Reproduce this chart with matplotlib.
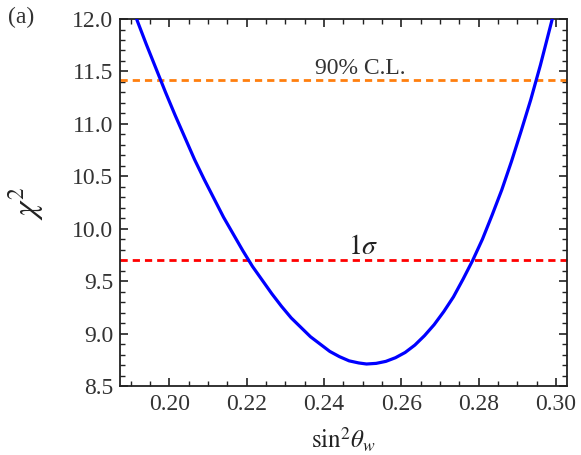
import matplotlib
matplotlib.use("Agg")
import matplotlib.pyplot as plt
from matplotlib.ticker import MultipleLocator, FormatStrFormatter

plt.rcParams['font.family'] = ['Liberation Serif', 'DejaVu Serif']
plt.rcParams['mathtext.fontset'] = 'stix'

# chi^2 curve (x = sin^2 theta_w, y = chi^2)
sin2 = [0.1915, 0.1940, 0.1965, 0.1990, 0.2015, 0.2040, 0.2065, 0.2090, 0.2115, 0.2140,
        0.2165, 0.2190, 0.2215, 0.2240, 0.2265, 0.2290, 0.2315, 0.2340, 0.2365, 0.2390,
        0.2415, 0.2440, 0.2465, 0.2490, 0.2510, 0.2535, 0.2560, 0.2585, 0.2610, 0.2635,
        0.2660, 0.2685, 0.2710, 0.2735, 0.2760, 0.2785, 0.2810, 0.2835, 0.2860, 0.2885,
        0.2910, 0.2935, 0.2960, 0.2990]
chi2 = [12.00, 11.76, 11.53, 11.30, 11.08, 10.87, 10.66, 10.47, 10.29, 10.11,
        9.95, 9.79, 9.64, 9.51, 9.38, 9.26, 9.15, 9.06, 8.97, 8.90,
        8.83, 8.78, 8.74, 8.72, 8.71, 8.716, 8.735, 8.77, 8.82, 8.89,
        8.98, 9.085, 9.21, 9.35, 9.52, 9.70, 9.90, 10.13, 10.37, 10.64,
        10.93, 11.23, 11.56, 11.99]

cl90 = 11.42
sigma1 = 9.70

fig = plt.figure(figsize=(5.81, 4.55), dpi=100)
ax = fig.add_axes([0.2065, 0.1516, 0.7695, 0.8066])

ax.axhline(cl90, color='#FF7F0E', lw=2.0, dashes=(2.6, 1.8))
ax.axhline(sigma1, color='#FF0000', lw=2.0, dashes=(2.6, 1.8))
ax.plot(sin2, chi2, color='#0000FF', lw=2.3, solid_joinstyle='round', zorder=3)

ax.text(0.2495, cl90 + 0.055, '90% C.L.', ha='center', va='baseline', fontsize=17, color='#333333')
ax.text(0.2503, sigma1 + 0.055, r'$1\sigma$', ha='center', va='baseline', fontsize=20, color='#222222')

ax.set_xlim(0.1872, 0.3029)
ax.set_ylim(8.5, 12.0)
ax.xaxis.set_major_locator(MultipleLocator(0.02))
ax.xaxis.set_minor_locator(MultipleLocator(0.005))
ax.yaxis.set_major_locator(MultipleLocator(0.5))
ax.yaxis.set_minor_locator(MultipleLocator(0.1))
ax.xaxis.set_major_formatter(FormatStrFormatter('%.2f'))
ax.yaxis.set_major_formatter(FormatStrFormatter('%.1f'))

ax.tick_params(which='both', direction='in', top=True, right=True, colors='#222222',
               labelcolor='#333333', labelsize=17)
ax.tick_params(axis='x', which='major', length=6, width=1.2, pad=6)
ax.tick_params(axis='y', which='major', length=6, width=1.2, pad=5)
ax.tick_params(which='minor', length=3.5, width=1.0)
for s in ax.spines.values():
    s.set_linewidth(1.3)
    s.set_color('#222222')

ax.set_xlabel(r'$\mathrm{sin}^2\theta_w$', fontsize=18, color='#222222')
ax.xaxis.set_label_coords(0.5, -0.108)
ax.set_ylabel(r'$\chi^2$', fontsize=24, color='#222222')
ax.yaxis.set_label_coords(-0.165, 0.5)

fig.text(8 / 581, 1 - 17 / 455, '(a)', fontsize=17, color='#333333', va='center', ha='left')

fig.savefig('out.png', dpi=100)
